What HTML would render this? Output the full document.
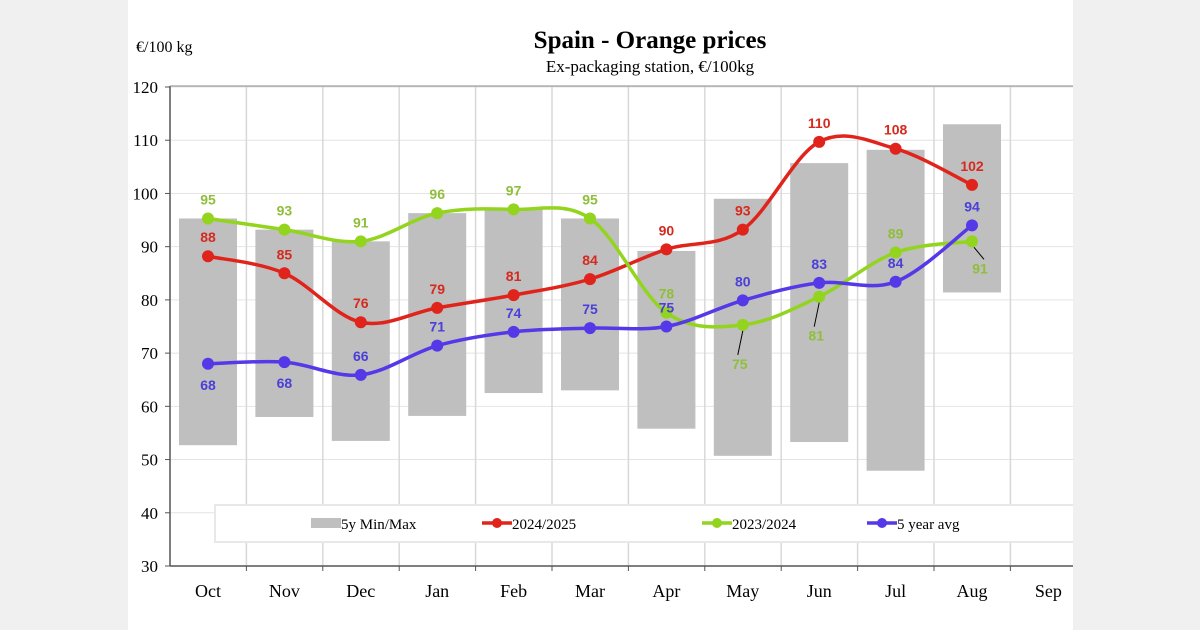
<!DOCTYPE html><html><head><meta charset="utf-8"><style>
body{margin:0;background:#f0f0f0;width:1200px;height:630px;overflow:hidden}
svg{display:block}
</style></head><body>
<svg id="s" width="1200" height="630" xmlns="http://www.w3.org/2000/svg">
<defs><clipPath id="cp"><rect x="0" y="0" width="1073" height="630"/></clipPath></defs>
<rect x="0" y="0" width="1200" height="630" fill="#f0f0f0"/>
<rect x="128" y="0" width="945" height="630" fill="#fff"/>
<g id="g" clip-path="url(#cp)"></g>
</svg>
<script>
const g=document.getElementById('g');
const X=i=>208+i*76.4, Y=v=>566-(v-30)*5.3222;
let h='';
for(let v=40;v<=120;v+=10)h+=`<line x1="170" x2="1073" y1="${Y(v)}" y2="${Y(v)}" stroke="#e4e4e4" stroke-width="1"/>`;
for(let i=1;i<=12;i++){const x=170+i*76.4;h+=`<line x1="${x}" x2="${x}" y1="86" y2="566" stroke="#d8d8d8" stroke-width="1.5"/>`;}
const mm=[[52.7,95.3],[58,93.2],[53.5,91],[58.2,96.3],[62.5,97],[63,95.3],[55.8,89.2],[50.7,99],[53.3,105.7],[47.9,108.2],[81.4,113]];
mm.forEach((m,i)=>h+=`<rect x="${X(i)-29}" y="${Y(m[1])}" width="58" height="${Y(m[0])-Y(m[1])}" fill="#bfbfbf"/>`);
h+=`<rect x="215" y="505" width="870" height="37" fill="#fff" stroke="#e8e8e8" stroke-width="2"/>`;
h+=`<line x1="170" x2="170" y1="86" y2="566" stroke="#555" stroke-width="1.5"/><line x1="170" x2="1073" y1="566" y2="566" stroke="#555" stroke-width="1.5"/><line x1="170" x2="1073" y1="86" y2="86" stroke="#888" stroke-width="1"/>`;
for(let v=30;v<=120;v+=10)h+=`<line x1="165" x2="170" y1="${Y(v)}" y2="${Y(v)}" stroke="#555"/><text x="158" y="${Y(v)+6}" text-anchor="end" font-family="Liberation Serif" font-size="17">${v}</text>`;
const mo=['Oct','Nov','Dec','Jan','Feb','Mar','Apr','May','Jun','Jul','Aug','Sep'];
mo.forEach((m,i)=>{h+=`<line x1="${170+(i+1)*76.4}" x2="${170+(i+1)*76.4}" y1="566" y2="571" stroke="#555"/><text x="${X(i)}" y="597" text-anchor="middle" font-family="Liberation Serif" font-size="18">${m}</text>`});
h+=`<text x="650" y="48" text-anchor="middle" font-family="Liberation Serif" font-weight="bold" font-size="25">Spain  -  Orange  prices</text>
<text x="650" y="72" text-anchor="middle" font-family="Liberation Serif" font-size="17">Ex-packaging  station, €/100kg</text>
<text x="136" y="52" font-family="Liberation Serif" font-size="16">€/100 kg</text>`;
function path(vs){const p=vs.map((v,i)=>[X(i),Y(v)]);let d=`M${p[0][0]},${p[0][1]}`;
for(let i=0;i<p.length-1;i++){const p0=p[i-1]||p[i],p1=p[i],p2=p[i+1],p3=p[i+2]||p2;
d+=`C${p1[0]+(p2[0]-p0[0])/6},${p1[1]+(p2[1]-p0[1])/6} ${p2[0]-(p3[0]-p1[0])/6},${p2[1]-(p3[1]-p1[1])/6} ${p2[0]},${p2[1]}`;}return d;}
const S=[
{c:'#e0231b',tc:'#d52a1e',v:[88.2,85,75.8,78.5,80.9,83.9,89.5,93.2,109.7,108.4,101.6],l:[88,85,76,79,81,84,90,93,110,108,102],off:[-1,-1,-1,-1,-1,-1,-1,-1,-1,-1,-1]},
{c:'#92d41e',tc:'#8fbf3a',v:[95.3,93.2,91,96.3,97,95.3,77.6,75.3,80.6,88.9,91],l:[95,93,91,96,97,95,78,75,81,89,91],off:[-1,-1,-1,-1,-1,-1,-1,'b','b',-1,'r']},
{c:'#5538e8',tc:'#4a3fd8',v:[68,68.3,65.9,71.4,74,74.7,75,79.9,83.2,83.4,94],l:[68,68,66,71,74,75,75,80,83,84,94],off:[1,1,-1,-1,-1,-1,-1,-1,-1,-1,-1]}];
S.forEach(s=>{h+=`<path d="${path(s.v)}" fill="none" stroke="${s.c}" stroke-width="3.5"/>`;
s.v.forEach((v,i)=>{h+=`<circle cx="${X(i)}" cy="${Y(v)}" r="6" fill="${s.c}"/>`;
let x=X(i),y=Y(v),o=s.off[i];
if(o==-1)y-=14;else if(o==1)y+=26;else if(o=='b'){h+=`<line x1="${x}" y1="${y+6}" x2="${x-5}" y2="${y+30}" stroke="#000"/>`;y+=44;x-=3;}
else {h+=`<line x1="${x+2}" y1="${y+6}" x2="${x+12}" y2="${y+18}" stroke="#000"/>`;y+=32;x+=8;}
h+=`<text x="${x}" y="${y}" text-anchor="middle" font-family="Liberation Sans" font-weight="bold" font-size="14" fill="${s.tc}">${s.l[i]}</text>`;});});
h+=`<rect x="311" y="518" width="30" height="10" fill="#bfbfbf"/><text x="341" y="529" font-family="Liberation Serif" font-size="15">5y Min/Max</text>`;
[['#e0231b',512,'2024/2025'],['#92d41e',732,'2023/2024'],['#5538e8',897,'5 year avg']].forEach(l=>{h+=`<line x1="${l[1]-30}" x2="${l[1]}" y1="523" y2="523" stroke="${l[0]}" stroke-width="3.5"/><circle cx="${l[1]-15}" cy="523" r="5" fill="${l[0]}"/><text x="${l[1]}" y="529" font-family="Liberation Serif" font-size="15">${l[2]}</text>`});
g.innerHTML=h;
</script>
</body></html>
